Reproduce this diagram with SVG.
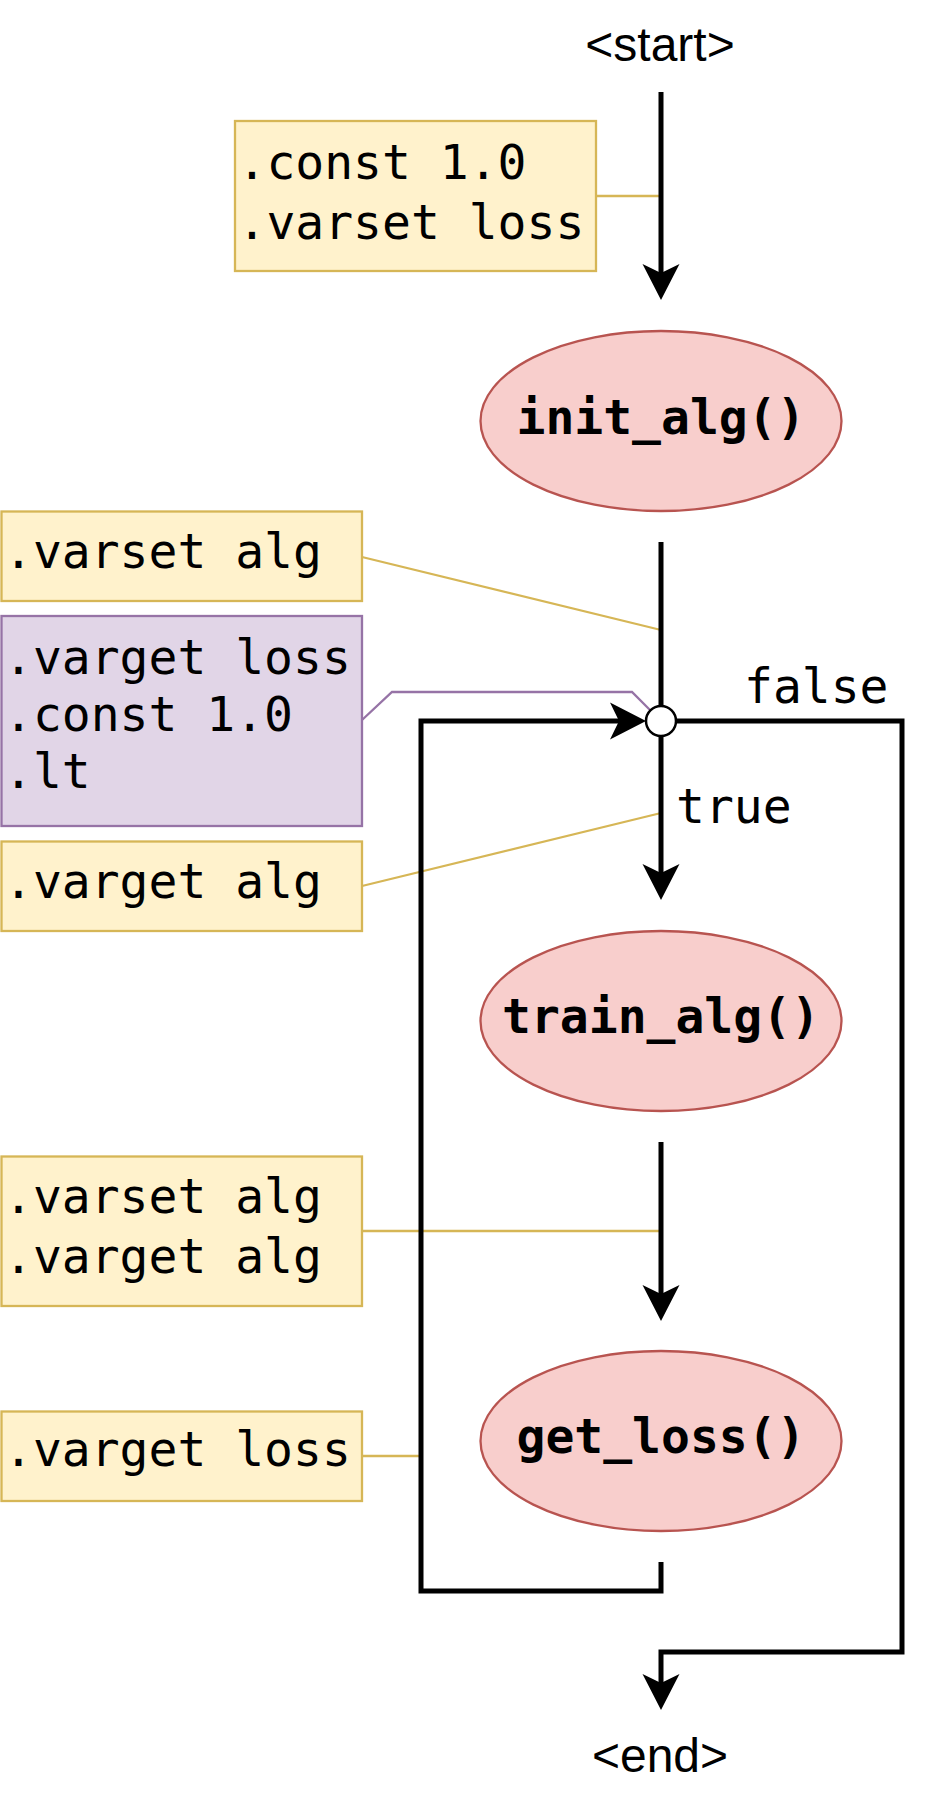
<svg xmlns="http://www.w3.org/2000/svg" width="930" height="1800" viewBox="0 0 930 1800">
<style>
.mono{font-family:"DejaVu Sans Mono",monospace;font-size:48px;fill:#000}
.bold{font-family:"DejaVu Sans Mono",monospace;font-size:48px;font-weight:bold;fill:#000}
.sans{font-family:"Liberation Sans",Arial,sans-serif;font-size:48px;fill:#000}
.ybox{fill:#fff2cc;stroke:#d6b656;stroke-width:2.3}
.pbox{fill:#e1d5e7;stroke:#9673a6;stroke-width:2.3}
.ell{fill:#f8cecc;stroke:#b85450;stroke-width:2.3}
.yl{fill:none;stroke:#d6b656;stroke-width:2.3}
.pl{fill:none;stroke:#9673a6;stroke-width:2.3}
.bl{fill:none;stroke:#000;stroke-width:5}
</style>
<defs>
<path id="ah" d="M0,0 L-18.5,-36 L0,-27 L18.5,-36 Z" fill="#000"/>
</defs>
<rect width="930" height="1800" fill="#fff"/>

<g id="annotation-connectors">
<line class="yl" x1="596" y1="196" x2="661" y2="196"/>
<line class="yl" x1="362" y1="557" x2="661" y2="630"/>
<polyline class="pl" points="362,720 392,692 632,692 650,710"/>
<line class="yl" x1="362" y1="886" x2="661" y2="813"/>
<line class="yl" x1="362" y1="1231" x2="661" y2="1231"/>
<line class="yl" x1="362" y1="1456" x2="421" y2="1456"/>
</g>

<g id="start"><text class="sans" x="660" y="61" text-anchor="middle">&lt;start&gt;</text></g>
<g id="end"><text class="sans" x="660" y="1772" text-anchor="middle">&lt;end&gt;</text></g>

<g id="box-const-varset-loss">
<rect class="ybox" x="235" y="121" width="361" height="150"/>
<text class="mono" x="237.5" y="179">.const 1.0</text>
<text class="mono" x="237.5" y="239">.varset loss</text>
</g>
<g id="box-varset-alg">
<rect class="ybox" x="1.5" y="511.5" width="360.5" height="89.5"/>
<text class="mono" x="4" y="568">.varset alg</text>
</g>
<g id="box-condition">
<rect class="pbox" x="1.5" y="616" width="360.5" height="210"/>
<text class="mono" x="4" y="674">.varget loss</text>
<text class="mono" x="4" y="731">.const 1.0</text>
<text class="mono" x="4" y="788">.lt</text>
</g>
<g id="box-varget-alg">
<rect class="ybox" x="1.5" y="841.5" width="360.5" height="89.5"/>
<text class="mono" x="4" y="898">.varget alg</text>
</g>
<g id="box-varset-varget-alg">
<rect class="ybox" x="1.5" y="1156.5" width="360.5" height="149.5"/>
<text class="mono" x="4" y="1213">.varset alg</text>
<text class="mono" x="4" y="1273">.varget alg</text>
</g>
<g id="box-varget-loss">
<rect class="ybox" x="1.5" y="1411.5" width="360.5" height="89.5"/>
<text class="mono" x="4" y="1466">.varget loss</text>
</g>

<g id="init_alg">
<ellipse class="ell" cx="661" cy="421" rx="180.5" ry="90"/>
<text class="bold" x="661" y="434" text-anchor="middle">init_alg()</text>
</g>
<g id="train_alg">
<ellipse class="ell" cx="661" cy="1021" rx="180.5" ry="90"/>
<text class="bold" x="661" y="1033" text-anchor="middle">train_alg()</text>
</g>
<g id="get_loss">
<ellipse class="ell" cx="661" cy="1441" rx="180.5" ry="90"/>
<text class="bold" x="661" y="1453" text-anchor="middle">get_loss()</text>
</g>

<g id="connectors">
<line class="bl" x1="661" y1="92" x2="661" y2="274"/>
<use href="#ah" x="661" y="300"/>
<line class="bl" x1="661" y1="542" x2="661" y2="710"/>
<line class="bl" x1="661" y1="730" x2="661" y2="874"/>
<use href="#ah" x="661" y="900"/>
<line class="bl" x1="661" y1="1142" x2="661" y2="1295"/>
<use href="#ah" x="661" y="1321"/>
<polyline class="bl" points="661,1562 661,1591 421,1591 421,721 620,721"/>
<use href="#ah" transform="translate(646,721) rotate(-90)"/>
<polyline class="bl" points="670,721 902,721 902,1652 661,1652 661,1684"/>
<use href="#ah" x="661" y="1710"/>
<text class="mono" x="744" y="703">false</text>
<text class="mono" x="676" y="823">true</text>
</g>

<g id="junction">
<circle cx="661" cy="721" r="15" fill="#fff" stroke="#000" stroke-width="2.5"/>
</g>
</svg>
